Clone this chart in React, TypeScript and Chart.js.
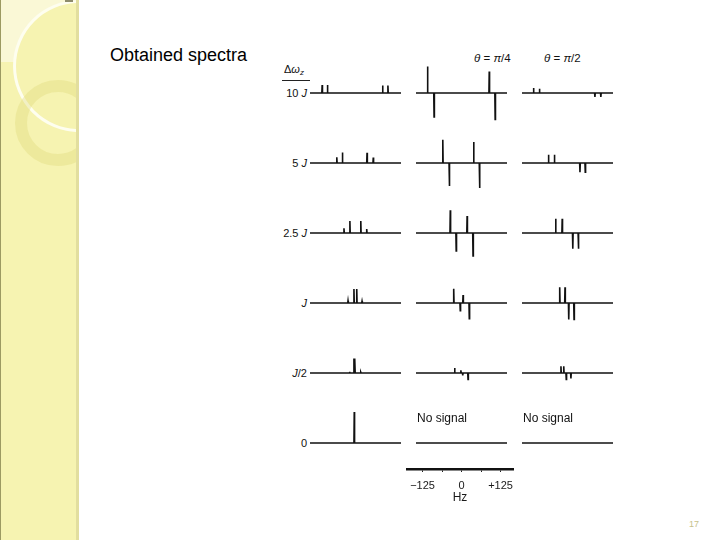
import React, { useEffect, useRef } from 'react';
import { Chart, registerables } from 'chart.js';

Chart.register(...registerables);

// ---------------- data ----------------
// Row labels (Δω_z values), top to bottom
const rowLabels = ['10 J', '5 J', '2.5 J', 'J', 'J/2', '0'];
// Column titles
const columnTitles = ['', 'θ = π/4', 'θ = π/2'];
// Panels without any signal (text shown instead)
const noSignalText = 'No signal';

// Peak positions (Hz) and intensities per row — column 1 (θ = 0)
const col1Positions = [
  [-107, -90, 87, 104],
  [-60, -42, 37, 57],
  [-37, -18, 17, 36],
  [-24, -5, 4, 21],
  [-19, -5, -2, 17],
  [-4],
];
const col1Heights = [
  [8, 8, 7.5, 7.5],
  [5.7, 10.5, 10.3, 5.5],
  [4.7, 12, 12, 4],
  [2.3, 14, 14, 1.7],
  [1.2, 14.5, 14.5, 0.8],
  [31],
];

// column 2 (θ = π/4)
const col2Positions = [
  [-109, -88, 89, 108],
  [-60, -39, 39, 58],
  [-36, -17, 18, 37],
  [-25, -4, 5, 25],
  [-22, -2, 4, 21],
  [],
];
const col2Heights = [
  [26.5, -24, 21.5, -26.5],
  [23.3, -23, 21, -25],
  [22.7, -18, 17, -23],
  [14.3, -7.8, 8, -15.7],
  [5, 2.7, -2.3, -6.5],
  [],
];

// column 3 (θ = π/2)
const col3Positions = [
  [-109, -90, 88, 107],
  [-61, -42, 40, 57],
  [-38, -17, 17, 35],
  [-25, -8, 4, 21],
  [-21, -12, -4, 11],
  [],
];
const col3Heights = [
  [5, 4.3, -4, -4],
  [8.3, 8.3, -9.2, -9.2],
  [14.3, 14.3, -15.7, -15.7],
  [15.8, 15.8, -16.5, -16.5],
  [6.7, 6.7, -6.5, -5.5],
  [],
];

// Frequency scale bar
const scaleTickValues = [-125, -62.5, 0, 62.5, 125];
const scaleTickLabels = ['−125', '', '0', '', '+125'];
const scaleTitle = 'Hz';

const pageNumber = '17';
const slideTitle = 'Obtained spectra';

// ---------------- layout ----------------
const HZ_MIN = -146;
const HZ_MAX = 146;
const AMP = 35;
const PANEL_W = 91;
const PANEL_H = 70;
const COL_LEFT = [310, 416, 522];
const ROW_BASE = [93, 162.5, 232.7, 302.7, 372.5, 442.7];
const STICK_HALF = 1.0;
const LINE_COLOR = '#111111';
const FONT = '"Liberation Sans", Arial, Helvetica, sans-serif';

const allPositions = [col1Positions, col2Positions, col3Positions];
const allHeights = [col1Heights, col2Heights, col3Heights];

function Panel(props: { pos: number[]; amp: number[]; left: number; top: number }) {
  const ref = useRef<HTMLCanvasElement>(null);
  useEffect(() => {
    if (!ref.current) return;
    const order = props.pos.map((_, i) => i).sort((a, b) => props.pos[a] - props.pos[b]);
    const pts: { x: number; y: number }[] = [{ x: HZ_MIN, y: 0 }];
    order.forEach((i) => {
      const p = props.pos[i];
      pts.push({ x: p - STICK_HALF, y: 0 }, { x: p, y: props.amp[i] }, { x: p + STICK_HALF, y: 0 });
    });
    pts.push({ x: HZ_MAX, y: 0 });
    const chart = new Chart(ref.current, {
      type: 'line',
      data: {
        datasets: [
          {
            data: pts,
            borderColor: LINE_COLOR,
            borderWidth: 1.6,
            pointRadius: 0,
            tension: 0,
            fill: false,
          },
        ],
      },
      options: {
        animation: false,
        responsive: false,
        events: [],
        layout: { padding: 0 },
        plugins: { legend: { display: false }, tooltip: { enabled: false } },
        scales: {
          x: { type: 'linear', min: HZ_MIN, max: HZ_MAX, display: false },
          y: { type: 'linear', min: -AMP, max: AMP, display: false },
        },
      },
    });
    return () => chart.destroy();
  }, []);
  return (
    <canvas
      ref={ref}
      width={PANEL_W}
      height={PANEL_H}
      style={{ position: 'absolute', left: props.left, top: props.top, width: PANEL_W, height: PANEL_H }}
    />
  );
}

function ScaleBar() {
  const ref = useRef<HTMLCanvasElement>(null);
  useEffect(() => {
    if (!ref.current) return;
    const chart = new Chart(ref.current, {
      type: 'line',
      data: { datasets: [{ data: [], borderWidth: 0, pointRadius: 0 }] },
      options: {
        animation: false,
        responsive: false,
        events: [],
        layout: { padding: { left: 12, right: 12, top: 0, bottom: 0 } },
        plugins: { legend: { display: false }, tooltip: { enabled: false } },
        scales: {
          x: {
            type: 'linear',
            position: 'bottom',
            min: -175,
            max: 165,
            afterBuildTicks: (scale: any) => {
              scale.ticks = scaleTickValues.map((v) => ({ value: v }));
            },
            afterFit: (scale: any) => {
              scale.height = 40;
            },
            ticks: {
              autoSkip: false,
              maxRotation: 0,
              padding: 7,
              color: '#1a1a1a',
              font: { family: FONT, size: 11 },
              callback: (v: any) => {
                const i = scaleTickValues.indexOf(Number(v));
                return i >= 0 ? scaleTickLabels[i] : '';
              },
            },
            grid: {
              display: true,
              drawOnChartArea: false,
              drawTicks: true,
              tickLength: 3,
              color: '#222',
              lineWidth: 1,
            },
            border: { display: true, width: 2.5, color: '#111' },
            title: {
              display: true,
              text: scaleTitle,
              color: '#1a1a1a',
              font: { family: FONT, size: 12 },
              padding: { top: 0, bottom: 4 },
            },
          },
          y: { display: false, min: 0, max: 1 },
        },
      },
    });
    return () => chart.destroy();
  }, []);
  return (
    <canvas
      ref={ref}
      width={130}
      height={64}
      style={{ position: 'absolute', left: 395, top: 445, width: 130, height: 64 }}
    />
  );
}

function Sidebar() {
  return (
    <div
      style={{
        position: 'absolute',
        left: 0,
        top: 0,
        width: 79,
        height: 540,
        boxSizing: 'border-box',
        background: '#f6f3b1',
        borderLeft: '1px solid #9c9a62',
        borderRight: '3px solid #e2de9f',
        overflow: 'hidden',
      }}
    >
      <div style={{ position: 'absolute', left: 0, top: 0, width: 64, height: 62, background: '#faf8d6' }} />
      <div
        style={{
          position: 'absolute',
          left: 12,
          top: 0,
          width: 132,
          height: 132,
          boxSizing: 'border-box',
          borderRadius: '50%',
          background: '#f6f3b1',
          border: '3px solid rgba(255,255,250,0.85)',
        }}
      />
      <div
        style={{
          position: 'absolute',
          left: 14,
          top: 80,
          width: 86,
          height: 86,
          boxSizing: 'border-box',
          borderRadius: '50%',
          border: '12px solid rgba(222,216,118,0.35)',
        }}
      />
      <div style={{ position: 'absolute', left: 64, top: 0, width: 8, height: 2, background: '#8d8b6c' }} />
    </div>
  );
}

export default function App() {
  const panels: JSX.Element[] = [];
  for (let c = 0; c < 3; c++) {
    for (let r = 0; r < rowLabels.length; r++) {
      panels.push(
        <Panel
          key={`${c}-${r}`}
          pos={allPositions[c][r]}
          amp={allHeights[c][r]}
          left={COL_LEFT[c]}
          top={ROW_BASE[r] - PANEL_H / 2}
        />
      );
    }
  }
  const renderLabel = (t: string) => {
    const parts = t.split('J');
    if (parts.length === 1) return t;
    return (
      <>
        {parts[0]}
        <i>J</i>
        {parts[1]}
      </>
    );
  };
  const renderTitle = (t: string) =>
    t.split('').map((ch, i) =>
      ch === 'θ' || ch === 'π' ? <i key={i}>{ch}</i> : <span key={i}>{ch}</span>
    );
  return (
    <div
      style={{
        position: 'absolute',
        left: 0,
        top: 0,
        width: 720,
        height: 540,
        background: '#ffffff',
        overflow: 'hidden',
        fontFamily: FONT,
        color: '#111',
      }}
    >
      <Sidebar />
      <div style={{ position: 'absolute', left: 110, top: 46, fontSize: 18, lineHeight: '18px', color: '#000', whiteSpace: 'nowrap' }}>
        {slideTitle}
      </div>
      {/* Δω_z header */}
      <div
        style={{
          position: 'absolute',
          left: 282,
          top: 62,
          width: 28,
          fontSize: 11,
          lineHeight: '14px',
          paddingBottom: 2,
          paddingLeft: 2,
          boxSizing: 'border-box',
          borderBottom: '1px solid #222',
          whiteSpace: 'nowrap',
        }}
      >
        Δ<i>ω</i>
        <span style={{ fontSize: 8, position: 'relative', top: 2 }}>
          <i>z</i>
        </span>
      </div>
      {columnTitles.map((t, i) =>
        t ? (
          <div
            key={i}
            style={{
              position: 'absolute',
              left: [0, 474, 544][i],
              top: 51,
              fontSize: 11.5,
              lineHeight: '14px',
              whiteSpace: 'nowrap',
            }}
          >
            {renderTitle(t)}
          </div>
        ) : null
      )}
      {rowLabels.map((t, r) => (
        <div
          key={t}
          style={{
            position: 'absolute',
            left: 250,
            width: 57,
            textAlign: 'right',
            top: ROW_BASE[r] - 7,
            fontSize: 11,
            lineHeight: '14px',
            whiteSpace: 'nowrap',
          }}
        >
          {renderLabel(t)}
        </div>
      ))}
      {panels}
      {[1, 2].map((c) => (
        <div
          key={c}
          style={{
            position: 'absolute',
            left: COL_LEFT[c] + 1,
            top: ROW_BASE[5] - 32,
            fontSize: 12,
            lineHeight: '14px',
            whiteSpace: 'nowrap',
          }}
        >
          {noSignalText}
        </div>
      ))}
      <ScaleBar />
      <div style={{ position: 'absolute', left: 689, top: 518, fontSize: 9, lineHeight: '12px', color: '#c6c28c' }}>
        {pageNumber}
      </div>
    </div>
  );
}
